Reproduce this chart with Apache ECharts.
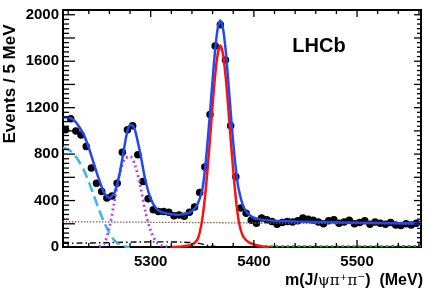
<!DOCTYPE html>
<html><head><meta charset="utf-8">
<script src="https://cdn.jsdelivr.net/npm/echarts@6/dist/echarts.min.js"></script>
<style>html,body{margin:0;padding:0;background:#fff}#c{width:427px;height:294px}</style>
</head><body><div id="c"></div>
<script>
// ---- data ----
const massBins = [5217.5,5222.5,5227.5,5232.5,5237.5,5242.5,5247.5,5252.5,5257.5,5262.5,5267.5,5272.5,5277.5,5282.5,5287.5,5292.5,5297.5,5302.5,5307.5,5312.5,5317.5,5322.5,5327.5,5332.5,5337.5,5342.5,5347.5,5352.5,5357.5,5362.5,5367.5,5372.5,5377.5,5382.5,5387.5,5392.5,5397.5,5402.5,5407.5,5412.5,5417.5,5422.5,5427.5,5432.5,5437.5,5442.5,5447.5,5452.5,5457.5,5462.5,5467.5,5472.5,5477.5,5482.5,5487.5,5492.5,5497.5,5502.5,5507.5,5512.5,5517.5,5522.5,5527.5,5532.5,5537.5,5542.5,5547.5,5552.5,5557.5];
const counts = [1010,1105,1000,965,865,680,550,478,422,440,550,815,1010,1045,795,565,415,320,305,305,300,270,275,265,300,345,470,690,1140,1730,1915,1610,1045,605,335,290,230,205,250,235,220,195,210,220,215,225,250,240,230,215,200,225,235,205,215,230,200,210,225,195,215,205,195,210,190,185,200,190,205];

const totalFit = [[5215,1118],[5220,1115],[5225,1095],[5230,1045],[5235,970],[5240,855],[5245,715],[5250,580],[5255,465],[5260,425],[5265,470],[5270,640],[5275,890],[5277.5,1000],[5280,1050],[5282.5,1045],[5285,1000],[5290,800],[5295,570],[5300,415],[5305,335],[5310,302],[5315,290],[5320,282],[5325,278],[5330,280],[5335,288],[5340,310],[5345,360],[5350,495],[5352.5,660],[5355,890],[5357.5,1160],[5360,1440],[5362.5,1700],[5365,1885],[5367.5,1950],[5370,1885],[5372.5,1710],[5375,1450],[5377.5,1165],[5380,900],[5382.5,680],[5385,510],[5390,345],[5395,280],[5400,252],[5405,240],[5410,233],[5420,226],[5440,220],[5460,216],[5480,213],[5500,210],[5530,206],[5562,203]];
const bsSignal = [[5320,0],[5325,2],[5330,5],[5335,10],[5340,20],[5345,60],[5347.5,125],[5350,240],[5352.5,420],[5355,660],[5357.5,930],[5360,1220],[5362.5,1480],[5365,1665],[5367.5,1735],[5370,1665],[5372.5,1480],[5375,1220],[5377.5,930],[5380,660],[5382.5,420],[5385,240],[5387.5,140],[5390,85],[5395,40],[5400,22],[5405,10],[5410,3],[5415,0]];
const b0Signal = [[5250,3],[5255,30],[5260,170],[5265,400],[5270,630],[5275,760],[5280,780],[5285,700],[5290,520],[5295,300],[5300,140],[5305,50],[5310,15],[5315,4],[5320,0]];
const partialReco = [[5215,855],[5220,840],[5225,805],[5230,745],[5235,665],[5240,560],[5245,440],[5250,320],[5255,210],[5260,120],[5265,55],[5270,20],[5275,5],[5280,0]];
const combBkg = [[5215,218],[5300,213],[5400,207],[5500,201],[5562,197]];
const otherBkg = [[5215,32],[5250,36],[5300,44],[5330,42],[5345,34],[5355,15],[5362,4],[5370,0]];
const greenBkg = [[5405,5],[5420,7],[5480,7],[5562,8]];

const xMajorTicks = [5300,5400,5500];
const yLabelTicks = [0,400,800,1200,1600,2000];
const XMIN = 5215, XMAX = 5562, YMIN = 0, YMAX = 2041;

const xMinorTicks = []; for (let v = 5220; v < XMAX; v += 20) if (v % 100 !== 0) xMinorTicks.push(v);
const yMajorTicks = []; for (let v = 200; v <= 2000; v += 200) yMajorTicks.push(v);
const yMinorTicks = []; for (let v = 40; v < YMAX; v += 40) if (v % 200 !== 0) yMinorTicks.push(v);

const FONT = '"Liberation Sans", Arial, Helvetica, sans-serif';
const plain = v => String(Math.round(v));

const chart = echarts.init(document.getElementById('c'), null, {renderer:'canvas'});
function curve(data, color, width, type, z, sm) {
  return {type:'line', data:data, smooth:sm, showSymbol:false, symbol:'none', z:z, silent:true,
    lineStyle:{color:color, width:width, type:type}, animation:false};
}
const textGraphics = [
  {type:'text', x:10, y:84, rotation:Math.PI/2, silent:true,
    style:{text:'Events / 5 MeV', x:0, y:0, textAlign:'center', textVerticalAlign:'middle', font:'bold 17px ' + FONT, fill:'#000'}},
  {type:'text', x:423, y:281, silent:true,
    style:{text:'{b|m(J/}{g|ψπ⁺π⁻}{b|)  (MeV)}', x:0, y:0, textAlign:'right', textVerticalAlign:'middle', fill:'#000',
      rich:{b:{font:'bold 16px ' + FONT, fill:'#000'}, g:{font:'15px "DejaVu Serif", serif', fill:'#000'}}}},
  {type:'text', x:319, y:46, silent:true,
    style:{text:'LHCb', x:0, y:0, textAlign:'center', textVerticalAlign:'middle', font:'bold 20px ' + FONT, fill:'#000'}}
];
chart.setOption({
  animation:false,
  backgroundColor:'#fff',
  grid:{left:63, top:10, right:6, bottom:47, containLabel:false, show:true, borderColor:'#000', borderWidth:2, backgroundColor:'transparent'},
  xAxis:{type:'value', min:XMIN, max:XMAX,
    axisLine:{show:true, onZero:false, lineStyle:{color:'#000', width:2}},
    axisTick:{show:false},
    axisLabel:{show:true, customValues:xMajorTicks, formatter:plain, color:'#000', fontFamily:FONT, fontWeight:'bold', fontSize:15, margin:7},
    splitLine:{show:false}},
  yAxis:{type:'value', min:YMIN, max:YMAX,
    axisLine:{show:true, onZero:false, lineStyle:{color:'#000', width:2}},
    axisTick:{show:false},
    axisLabel:{show:true, customValues:yLabelTicks, formatter:plain, color:'#000', fontFamily:FONT, fontWeight:'bold', fontSize:15, margin:4},
    splitLine:{show:false}},
  series:[
    {type:'scatter', data: massBins.map((m,i)=>[m, counts[i]]), symbol:'circle', symbolSize:7.5,
      itemStyle:{color:'#000', opacity:1}, z:2, silent:true},
    curve(combBkg, '#8a6248', 1.3, [1.5,1.5], 3, 0.3),
    curve(otherBkg, '#000', 1.4, [6,3,1.5,3], 3, 0.3),
    curve(greenBkg, '#1fa81f', 2, [3,2.5], 3, 0.3),
    curve(partialReco, '#3cb4f0', 2.5, [10,5], 4, 0.3),
    curve(b0Signal, '#b048ee', 2.8, [2,3], 4, 0.3),
    curve(bsSignal, '#ff1010', 2.5, 'solid', 5, 0.25),
    curve(totalFit, '#2448f0', 2.5, 'solid', 6, 0.3)
  ],
  graphic: textGraphics
});

// tick marks placed through the chart's own scales
const tickGraphics = [];
function px(x, y) { return chart.convertToPixel({gridIndex:0}, [x, y]); }
function seg(p, dx, dy) {
  tickGraphics.push({type:'line', silent:true, z:100,
    shape:{x1:p[0], y1:p[1], x2:p[0] + dx, y2:p[1] + dy}, style:{stroke:'#000', lineWidth:1.3}});
}
xMajorTicks.forEach(v => { seg(px(v, YMIN), 0, -7); seg(px(v, YMAX), 0, 7); });
xMinorTicks.forEach(v => { seg(px(v, YMIN), 0, -4); seg(px(v, YMAX), 0, 4); });
yMajorTicks.forEach(v => { seg(px(XMIN, v), 12, 0); seg(px(XMAX, v), -7, 0); });
yMinorTicks.forEach(v => { seg(px(XMIN, v), 6, 0); seg(px(XMAX, v), -4, 0); });
chart.setOption({graphic: textGraphics.concat(tickGraphics)});
</script></body></html>
